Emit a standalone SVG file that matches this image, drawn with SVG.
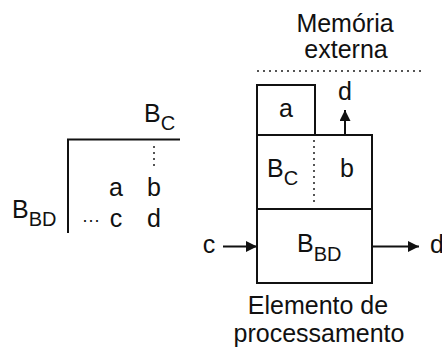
<svg xmlns="http://www.w3.org/2000/svg" width="442" height="349" viewBox="0 0 442 349">
<style>
text{font-family:"Liberation Sans",Arial,sans-serif;fill:#111;}
.t{font-size:25px;}
.s{font-size:20px;}
.m{text-anchor:middle;}
.ln{stroke:#111;stroke-width:2;fill:none;}
.bx{stroke:#111;stroke-width:2;fill:#fff;}
.dot{stroke:#555;stroke-width:2;fill:none;stroke-dasharray:2 4;}
</style>
<defs>
<marker id="ah" viewBox="0 0 11 11" refX="11" refY="5.5" markerWidth="11" markerHeight="11" markerUnits="userSpaceOnUse" orient="auto">
<path d="M0,0 L11,5.5 L0,11 z" fill="#111"/>
</marker>
</defs>
<rect width="442" height="349" fill="#fff"/>
<g id="matrix">
<path class="ln" d="M68,233 V139.5 H180"/>
<text class="t" x="144" y="122">B<tspan class="s" y="130">C</tspan></text>
<path class="dot" d="M154,146 V166"/>
<text class="t m" x="116" y="196">a</text>
<text class="t m" x="154" y="196">b</text>
<text x="82" y="226" style="font-size:18px">···</text>
<text class="t m" x="116" y="227">c</text>
<text class="t m" x="154" y="227">d</text>
<text class="t" x="12" y="218">B<tspan class="s" y="226">BD</tspan></text>
</g>
<g id="memoria">
<text class="t m" x="345" y="32">Memória</text>
<text class="t m" x="346" y="58">externa</text>
<path class="dot" d="M257,71 H423"/>
</g>
<g id="box-a">
<rect class="bx" x="257" y="85" width="58" height="50"/>
<text class="t m" x="286" y="117">a</text>
</g>
<g id="box-bc">
<rect class="bx" x="257" y="135" width="115" height="74"/>
<path class="dot" d="M314,140 V205"/>
<text class="t" x="267" y="177">B<tspan class="s" y="185">C</tspan></text>
<text class="t m" x="347" y="177">b</text>
</g>
<g id="box-bbd">
<rect class="bx" x="257" y="209" width="115" height="74"/>
<text class="t" x="297" y="252">B<tspan class="s" y="261">BD</tspan></text>
</g>
<g id="labels">
<text class="t m" x="345" y="100">d</text>
<text class="t m" x="209" y="253">c</text>
<text class="t" x="430" y="253">d</text>
<text class="t m" x="318" y="314">Elemento de</text>
<text class="t m" x="319" y="342">processamento</text>
</g>
<g id="connectors">
<path class="ln" d="M345,135 V110" marker-end="url(#ah)"/>
<path class="ln" d="M223,246.5 H257" marker-end="url(#ah)"/>
<path class="ln" d="M372,246.5 H419" marker-end="url(#ah)"/>
</g>
</svg>
